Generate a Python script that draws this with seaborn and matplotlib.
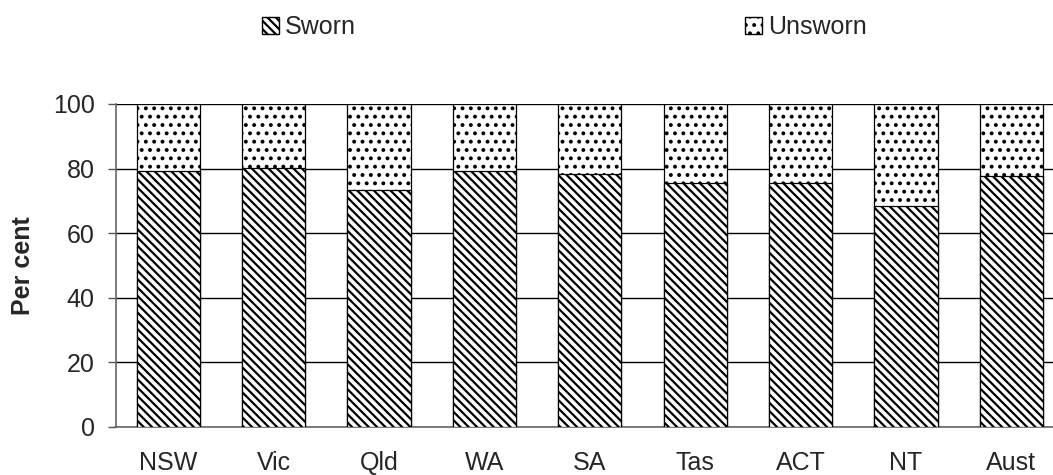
import matplotlib
matplotlib.use("Agg")
import matplotlib.pyplot as plt
import matplotlib.patches as mpatches
from matplotlib.ticker import FixedLocator
import pandas as pd
import seaborn as sns

# values (per cent of police staff)
states = ["NSW", "Vic", "Qld", "WA", "SA", "Tas", "ACT", "NT", "Aust"]
sworn = [79.3, 80.1, 73.4, 79.3, 78.2, 75.4, 75.6, 68.4, 77.7]
unsworn = [100 - s for s in sworn]

df = pd.DataFrame({"state": states, "sworn": sworn, "unsworn": unsworn})
df["total"] = df["sworn"] + df["unsworn"]

sns.set_style("white")
plt.rcParams["font.family"] = ["Liberation Sans", "DejaVu Sans"]
plt.rcParams["hatch.linewidth"] = 1.6
plt.rcParams["hatch.color"] = "black"

FS = 18
SWORN_HATCH = "\\\\\\\\"
UNSWORN_HATCH = ".."

fig = plt.figure(figsize=(10.53, 4.75), dpi=100)
ax = fig.add_axes([115.5 / 1053, 48 / 475, 948.6 / 1053, 323 / 475])

# unsworn stacked on top: draw the total first, then sworn over it
sns.barplot(data=df, x="state", y="total", color="white", width=0.6,
            edgecolor="black", linewidth=0.9, ax=ax, zorder=3)
n_top = len(ax.patches)
sns.barplot(data=df, x="state", y="sworn", color="white", width=0.6,
            edgecolor="black", linewidth=0.9, ax=ax, zorder=3)
for i, p in enumerate(ax.patches):
    p.set_facecolor("white")
    p.set_edgecolor("black")
    p.set_hatch(UNSWORN_HATCH if i < n_top else SWORN_HATCH)

ax.set_xlim(-0.5, len(states) - 0.5)
ax.set_ylim(0, 100)
ax.set_yticks(range(0, 101, 20))
ax.yaxis.grid(True, color="black", linewidth=1)
ax.set_axisbelow(True)

for side in ["top", "right"]:
    ax.spines[side].set_visible(False)
for side in ["left", "bottom"]:
    ax.spines[side].set_color("#666666")
    ax.spines[side].set_linewidth(1.2)

ax.xaxis.set_minor_locator(FixedLocator([i - 0.5 for i in range(len(states) + 1)]))
ax.tick_params(axis="x", which="major", length=0, pad=17, labelsize=FS)
ax.tick_params(axis="x", which="minor", length=6, width=1, color="#555555", direction="out")
ax.tick_params(axis="y", length=6, width=1, color="#555555", direction="out",
               left=True, pad=9, labelsize=FS)
ax.set_xlabel("")
ax.set_ylabel("Per cent", fontsize=FS, fontweight="bold", labelpad=13)

h_sworn = mpatches.Patch(facecolor="white", edgecolor="black", hatch=SWORN_HATCH, label="Sworn")
h_unsworn = mpatches.Patch(facecolor="white", edgecolor="black", hatch=UNSWORN_HATCH, label="Unsworn")
for handle, x0 in [(h_sworn, 262), (h_unsworn, 745)]:
    fig.legend(handles=[handle], loc="center left", bbox_to_anchor=(x0 / 1053, 1 - 27 / 475),
               frameon=False, fontsize=FS, handlelength=0.68, handleheight=0.68,
               handletextpad=0.25, borderpad=0, borderaxespad=0)

fig.savefig("out.png", dpi=100)
